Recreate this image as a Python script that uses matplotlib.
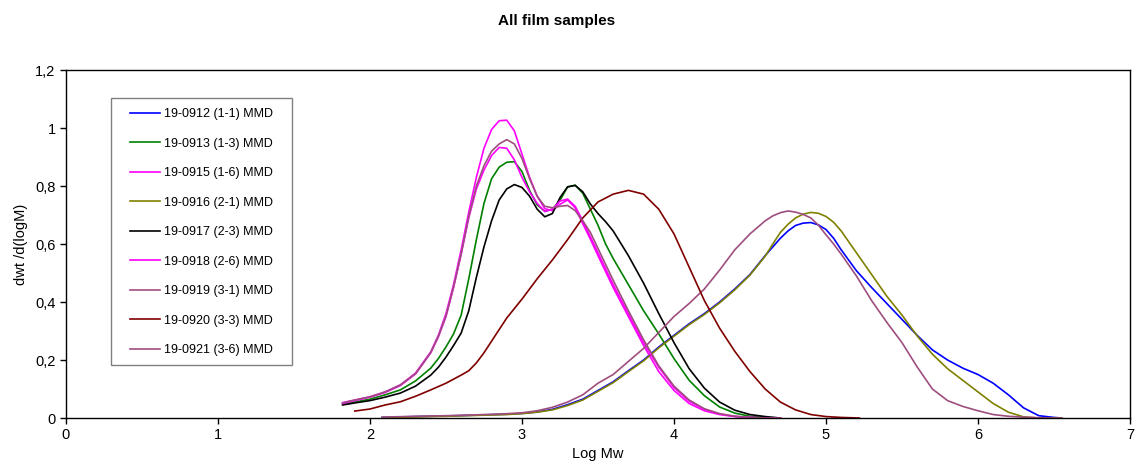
import matplotlib
matplotlib.use("Agg")
import matplotlib.pyplot as plt
from matplotlib.patches import Rectangle
from matplotlib.ticker import FuncFormatter

plt.rcParams['font.family'] = ['Liberation Sans', 'DejaVu Sans']

# sample names
labels = ['19-0912 (1-1) MMD', '19-0913 (1-3) MMD', '19-0915 (1-6) MMD',
          '19-0916 (2-1) MMD', '19-0917 (2-3) MMD', '19-0918 (2-6) MMD',
          '19-0919 (3-1) MMD', '19-0920 (3-3) MMD', '19-0921 (3-6) MMD']
colors = ['#0000FF', '#008000', '#FF00FF', '#808000', '#000000',
          '#FF00FF', '#9E4E7E', '#800000', '#9E4E7E']

# low molecular weight grid (x-3 and x-6 samples)
x_low = [1.82, 1.9, 2.0, 2.1, 2.2, 2.3, 2.4, 2.45, 2.5, 2.55, 2.6, 2.65, 2.7, 2.75,
         2.8, 2.85, 2.9, 2.95, 3.0, 3.05, 3.1, 3.15, 3.2, 3.25, 3.3, 3.35, 3.4,
         3.45, 3.5, 3.55, 3.6, 3.7, 3.8, 3.9, 4.0, 4.1, 4.2, 4.3, 4.4, 4.5, 4.6, 4.7]

mmd_1_6 = [0.053, 0.062, 0.073, 0.09, 0.114, 0.155, 0.228, 0.285, 0.36, 0.46, 0.58,
           0.71, 0.83, 0.93, 0.995, 1.025, 1.027, 0.99, 0.91, 0.83, 0.765, 0.722,
           0.715, 0.737, 0.752, 0.725, 0.67, 0.617, 0.56, 0.505, 0.45, 0.35, 0.25,
           0.16, 0.095, 0.05, 0.025, 0.012, 0.005, 0.002, 0.0, 0.0]
mmd_2_6 = [0.05, 0.06, 0.072, 0.088, 0.112, 0.152, 0.225, 0.28, 0.35, 0.45, 0.565,
           0.69, 0.79, 0.855, 0.905, 0.933, 0.93, 0.89, 0.83, 0.78, 0.74, 0.712,
           0.72, 0.748, 0.755, 0.73, 0.68, 0.625, 0.57, 0.515, 0.46, 0.36, 0.26,
           0.175, 0.105, 0.058, 0.03, 0.014, 0.006, 0.002, 0.0, 0.0]
mmd_3_6 = [0.052, 0.062, 0.073, 0.09, 0.114, 0.153, 0.226, 0.282, 0.352, 0.452,
           0.567, 0.695, 0.8, 0.87, 0.92, 0.945, 0.96, 0.945, 0.895, 0.825, 0.765,
           0.73, 0.725, 0.73, 0.733, 0.715, 0.68, 0.64, 0.585, 0.53, 0.475, 0.37,
           0.27, 0.18, 0.11, 0.062, 0.032, 0.015, 0.006, 0.002, 0.0, 0.0]
mmd_1_3 = [0.047, 0.055, 0.065, 0.08, 0.097, 0.128, 0.172, 0.205, 0.245, 0.29,
           0.355, 0.48, 0.615, 0.74, 0.825, 0.865, 0.882, 0.884, 0.85, 0.785, 0.735,
           0.713, 0.72, 0.75, 0.797, 0.803, 0.775, 0.72, 0.665, 0.6, 0.55, 0.46,
           0.37, 0.29, 0.205, 0.13, 0.077, 0.038, 0.017, 0.006, 0.002, 0.0]
mmd_2_3 = [0.045, 0.052, 0.06, 0.072, 0.086, 0.11, 0.148, 0.175, 0.21, 0.25, 0.293,
           0.37, 0.485, 0.59, 0.68, 0.752, 0.79, 0.805, 0.795, 0.765, 0.72, 0.694,
           0.705, 0.76, 0.797, 0.802, 0.78, 0.738, 0.705, 0.677, 0.645, 0.56,
           0.465, 0.36, 0.26, 0.17, 0.103, 0.055, 0.027, 0.012, 0.005, 0.0]

# 3-3 sample, mid molecular weight
x_33 = [1.9, 2.0, 2.1, 2.2, 2.3, 2.4, 2.5, 2.6, 2.65, 2.7, 2.75, 2.8, 2.9, 3.0,
        3.1, 3.2, 3.3, 3.4, 3.5, 3.6, 3.7, 3.8, 3.9, 4.0, 4.1, 4.2, 4.3, 4.4, 4.5,
        4.6, 4.7, 4.8, 4.9, 5.0, 5.1, 5.22]
mmd_3_3 = [0.024, 0.031, 0.045, 0.056, 0.075, 0.097, 0.12, 0.148, 0.163, 0.19,
           0.225, 0.265, 0.345, 0.41, 0.48, 0.545, 0.615, 0.69, 0.745, 0.772, 0.785,
           0.772, 0.72, 0.635, 0.52, 0.405, 0.31, 0.23, 0.16, 0.1, 0.055, 0.028,
           0.012, 0.005, 0.002, 0.0]

# high molecular weight grid (x-1 samples)
x_high = [2.08, 2.3, 2.5, 2.7, 2.9, 3.0, 3.1, 3.2, 3.3, 3.4, 3.5, 3.6, 3.7, 3.8,
          3.9, 4.0, 4.1, 4.2, 4.3, 4.4, 4.5, 4.6, 4.65, 4.7, 4.75, 4.8, 4.85, 4.9,
          4.95, 5.0, 5.05, 5.1, 5.2, 5.3, 5.4, 5.5, 5.6, 5.7, 5.8, 5.9, 6.0, 6.1,
          6.2, 6.3, 6.4, 6.5, 6.55]
mmd_1_1 = [0.002, 0.005, 0.007, 0.01, 0.013, 0.016, 0.021, 0.03, 0.046, 0.065,
           0.095, 0.125, 0.163, 0.2, 0.245, 0.285, 0.325, 0.36, 0.4, 0.445, 0.495,
           0.56, 0.59, 0.62, 0.645, 0.664, 0.672, 0.674, 0.666, 0.65, 0.62, 0.58,
           0.508, 0.45, 0.395, 0.34, 0.285, 0.235, 0.2, 0.172, 0.15, 0.12, 0.08,
           0.035, 0.008, 0.002, 0.0]
mmd_2_1 = [0.001, 0.004, 0.006, 0.009, 0.012, 0.015, 0.02, 0.028, 0.043, 0.062,
           0.092, 0.122, 0.16, 0.197, 0.242, 0.282, 0.322, 0.357, 0.397, 0.442,
           0.493, 0.558, 0.6, 0.64, 0.668, 0.69, 0.703, 0.709, 0.706, 0.695, 0.675,
           0.645, 0.57, 0.495, 0.42, 0.355, 0.283, 0.22, 0.17, 0.13, 0.09, 0.05,
           0.02, 0.004, 0.0, 0.0, 0.0]
mmd_3_1 = [0.003, 0.006, 0.008, 0.011, 0.015, 0.018, 0.025, 0.037, 0.055, 0.08,
           0.12, 0.15, 0.195, 0.24, 0.295, 0.35, 0.395, 0.445, 0.51, 0.58, 0.635,
           0.68, 0.697, 0.708, 0.714, 0.71, 0.702, 0.69, 0.665, 0.632, 0.6, 0.565,
           0.49, 0.405, 0.33, 0.26, 0.176, 0.1, 0.06, 0.04, 0.025, 0.012, 0.006,
           0.003, 0.001, 0.0, 0.0]

series = [(x_high, mmd_1_1), (x_low, mmd_1_3), (x_low, mmd_1_6),
          (x_high, mmd_2_1), (x_low, mmd_2_3), (x_low, mmd_2_6),
          (x_high, mmd_3_1), (x_33, mmd_3_3), (x_low, mmd_3_6)]

fig = plt.figure(figsize=(11.35, 4.68), dpi=100)
ax = fig.add_axes([0.0581, 0.1068, 0.9375, 0.7436])

for (xs, ys), lab, c in zip(series, labels, colors):
    ax.plot(xs, ys, color=c, lw=1.2, label=lab, solid_joinstyle='round')

ax.set_xlim(0, 7)
ax.set_ylim(0, 1.2)
ax.set_xticks(range(0, 8))
ax.set_yticks([0, 0.2, 0.4, 0.6, 0.8, 1.0, 1.2])
ax.yaxis.set_major_formatter(FuncFormatter(lambda v, p: ('%g' % round(v, 1)).replace('.', ',')))
ax.tick_params(direction='out', length=4, labelsize=10.5, width=1)
for s in ax.spines.values():
    s.set_linewidth(1.0)

ax.set_xlabel('Log Mw', fontsize=10.5, labelpad=3)
ax.set_ylabel('dwt /d(logM)', fontsize=10.5, labelpad=5)

# legend box drawn separately so the padding matches
ax.add_patch(Rectangle((0.0423, 0.1523), 0.1701, 0.7672, transform=ax.transAxes,
                       fill=True, facecolor='white', edgecolor='#808080', lw=1.0, zorder=4))
leg = ax.legend(loc='upper left', bbox_to_anchor=(0.0602, 0.8905), fontsize=9,
                frameon=False, handlelength=2.4, handletextpad=0.3,
                labelspacing=1.4, borderpad=0, borderaxespad=0)
leg.set_zorder(5)

fig.text(0.49, 1 - 21 / 468, 'All film samples', ha='center', va='center',
         fontsize=11, fontweight='bold')

fig.savefig('out.png', dpi=100)
